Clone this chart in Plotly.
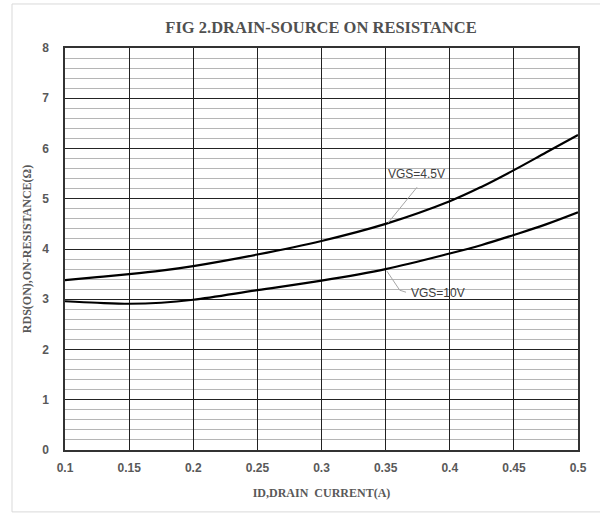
import plotly.graph_objects as go

# Data
id_a = [0.1, 0.125, 0.15, 0.175, 0.2, 0.25, 0.3, 0.35, 0.4, 0.425, 0.45, 0.475, 0.5]
rds_45 = [3.38, 3.44, 3.50, 3.57, 3.66, 3.89, 4.16, 4.50, 4.95, 5.24, 5.57, 5.92, 6.27]
rds_10 = [2.96, 2.93, 2.91, 2.93, 2.99, 3.18, 3.37, 3.60, 3.91, 4.08, 4.28, 4.49, 4.73]

x_ticks = [0.1, 0.15, 0.2, 0.25, 0.3, 0.35, 0.4, 0.45, 0.5]
x_tick_text = ["0.1", "0.15", "0.2", "0.25", "0.3", "0.35", "0.4", "0.45", "0.5"]
y_ticks = [0, 1, 2, 3, 4, 5, 6, 7, 8]

title_text = "FIG 2.DRAIN-SOURCE ON RESISTANCE"
x_title = "ID,DRAIN&nbsp;&nbsp;CURRENT(A)"
y_title = "RDS(ON),ON-RESISTANCE(Ω)"
label_45 = "VGS=4.5V"
label_10 = "VGS=10V"

fig = go.Figure()
fig.add_trace(go.Scatter(x=id_a, y=rds_45, mode="lines", line=dict(color="black", width=2.2, shape="spline", smoothing=1.0),
                         showlegend=False, hoverinfo="skip"))
fig.add_trace(go.Scatter(x=id_a, y=rds_10, mode="lines", line=dict(color="black", width=2.2, shape="spline", smoothing=1.0),
                         showlegend=False, hoverinfo="skip"))

tick_font = dict(family="Liberation Sans", size=12, color="#595959", weight="bold")

fig.update_layout(
    width=600, height=513,
    margin=dict(l=65, r=22, t=48, b=63),
    paper_bgcolor="white", plot_bgcolor="white",
    title=dict(text=title_text, x=0.535, xanchor="center", y=0.947, yanchor="middle",
               font=dict(family="Liberation Serif", size=16.5, color="#505050", weight="bold")),
    xaxis=dict(range=[0.1, 0.5], tickvals=x_ticks, ticktext=x_tick_text, showgrid=True,
               gridcolor="#222222", gridwidth=1, zeroline=False, showline=True, linecolor="#333333",
               linewidth=1.5, mirror=True, ticks="", tickfont=tick_font, ticklabelstandoff=6,
               title=dict(text=x_title, font=dict(family="Liberation Serif", size=12, color="#595959", weight="bold"),
                          standoff=14)),
    yaxis=dict(range=[0, 8], tickvals=y_ticks, showgrid=True, gridcolor="#222222", gridwidth=1.3,
               zeroline=False, showline=True, linecolor="#333333", linewidth=1.5, mirror=True, ticks="",
               tickfont=tick_font, ticklabelstandoff=12,
               minor=dict(dtick=0.2, showgrid=True, gridcolor="#b5b5b5", gridwidth=1),
               title=dict(text=y_title, font=dict(family="Liberation Serif", size=12, color="#595959", weight="bold"),
                          standoff=8)),
    shapes=[
        dict(type="rect", xref="paper", yref="paper", x0=-0.1033, x1=1.06, y0=-0.154, y1=1.1095,
             line=dict(color="#d9d9d9", width=1), layer="below"),
        dict(type="line", xref="x", yref="y", x0=0.3745, y0=5.23, x1=0.3519, y1=4.52,
             line=dict(color="#a6a6a6", width=1)),
        dict(type="line", xref="x", yref="y", x0=0.351, y0=3.56, x1=0.361, y1=3.18,
             line=dict(color="#a6a6a6", width=1)),
        dict(type="line", xref="x", yref="y", x0=0.361, y0=3.18, x1=0.3659, y1=3.14,
             line=dict(color="#a6a6a6", width=1)),
    ],
    annotations=[
        dict(text=label_45, x=0.3737, y=5.49, xref="x", yref="y", showarrow=False,
             font=dict(family="Liberation Sans", size=12, color="#404040")),
        dict(text=label_10, x=0.3908, y=3.12, xref="x", yref="y", showarrow=False,
             font=dict(family="Liberation Sans", size=12, color="#404040")),
    ],
)

fig.write_html("out.html")
